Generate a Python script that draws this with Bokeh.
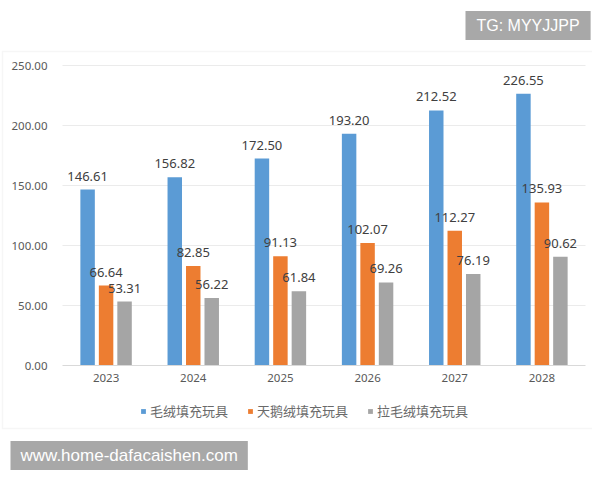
from bokeh.plotting import figure
from bokeh.models import (ColumnDataSource, Range1d, FixedTicker, NumeralTickFormatter,
                          Legend, LegendItem, Label, BoxAnnotation)
from bokeh.transform import dodge
from bokeh.core.properties import value
from bokeh.embed import file_html
from bokeh.resources import INLINE

years = ["2023", "2024", "2025", "2026", "2027", "2028"]
series_names = ["毛绒填充玩具", "天鹅绒填充玩具", "拉毛绒填充玩具"]
plush = [146.61, 156.82, 172.50, 193.20, 212.52, 226.55]
velvet = [66.64, 82.85, 91.13, 102.07, 112.27, 135.93]
brushed = [53.31, 56.22, 61.84, 69.26, 76.19, 90.62]
y_ticks = [0, 50, 100, 150, 200, 250]
colors = ["#5B9BD5", "#ED7D31", "#A5A5A5"]
offsets = [-0.212, 0.0, 0.212]
tg_text = "TG: MYYJJPP"
watermark_text = "www.home-dafacaishen.com"

W, H = 592, 472
# plot area in pixels: left 62, right 585, value 250 at 65, value 0 at 365
px_per_cat = (585 - 62) / len(years)
px_per_val = (365 - 65) / 250
x_start = -0.5 - 62 / px_per_cat
x_end = len(years) - 0.5 + (W - 585) / px_per_cat
y_end = 250 + 65 / px_per_val
y_start = -(H - 365) / px_per_val

xi = list(range(len(years)))
source = ColumnDataSource(dict(
    xi=xi,
    plush=plush, velvet=velvet, brushed=brushed,
    plush_t=[f"{v:.2f}" for v in plush],
    velvet_t=[f"{v:.2f}" for v in velvet],
    brushed_t=[f"{v:.2f}" for v in brushed],
))

p = figure(width=W, height=H, output_backend="svg", toolbar_location=None,
           x_range=Range1d(x_start, x_end), y_range=Range1d(y_start, y_end), min_border=0)
p.background_fill_color = "white"
p.border_fill_color = "white"
p.outline_line_color = None
p.grid.visible = False

# chart border
p.add_layout(BoxAnnotation(left=2, right=596, top=51, bottom=428,
                           left_units="canvas", right_units="canvas",
                           top_units="canvas", bottom_units="canvas",
                           fill_alpha=0, line_color="#e2e2e2", line_width=1.5))

# horizontal gridlines across the plot area
grid_src = ColumnDataSource(dict(y=y_ticks[1:], x0=[-0.5] * (len(y_ticks) - 1),
                                 x1=[len(years) - 0.5] * (len(y_ticks) - 1)))
p.segment(x0="x0", x1="x1", y0="y", y1="y", source=grid_src, line_color="#ebebeb", line_width=1)

p.yaxis.fixed_location = -0.5
p.yaxis.bounds = (0, 250)
p.yaxis.ticker = FixedTicker(ticks=y_ticks)
p.yaxis.formatter = NumeralTickFormatter(format="0.00")
p.yaxis.axis_line_color = None
p.yaxis.major_tick_line_color = None
p.yaxis.major_tick_out = 0
p.yaxis.minor_tick_line_color = None
p.yaxis.major_label_text_font = "Noto Sans"
p.yaxis.major_label_text_font_size = "11.5px"
p.yaxis.major_label_text_color = "#595959"
p.yaxis.major_label_standoff = 15

p.xaxis.fixed_location = 0
p.xaxis.bounds = (-0.5, len(years) - 0.5)
p.xaxis.ticker = FixedTicker(ticks=xi)
p.xaxis.major_label_overrides = {i: y for i, y in zip(xi, years)}
p.xaxis.axis_line_color = "#d9d9d9"
p.xaxis.major_tick_line_color = None
p.xaxis.major_tick_out = 0
p.xaxis.minor_tick_line_color = None
p.xaxis.major_label_text_font = "Noto Sans"
p.xaxis.major_label_text_font_size = "11.5px"
p.xaxis.major_label_text_color = "#595959"
p.xaxis.major_label_standoff = 8

renderers = []
for col, off, c in zip(["plush", "velvet", "brushed"], offsets, colors):
    r = p.vbar(x=dodge("xi", off), top=col, width=0.166,
               source=source, fill_color=c, line_color=None)
    renderers.append(r)
    p.text(x=dodge("xi", off), y=col, text=col + "_t", source=source,
           text_align="center", text_baseline="bottom", y_offset=-9,
           text_font=value("Noto Sans"), text_font_size="13px", text_color="#404040")

legend = Legend(items=[LegendItem(label=n, renderers=[r]) for n, r in zip(series_names, renderers)],
                orientation="horizontal", location=(140, 52),
                glyph_width=6, glyph_height=6, label_standoff=4, spacing=19,
                padding=0, margin=0, border_line_color=None, background_fill_alpha=0,
                label_text_font="Noto Sans CJK SC", label_text_font_size="13px",
                label_text_color="#6a6a6a", label_height=16)
p.add_layout(legend, "center")

p.add_layout(Label(x=465, y=25, x_units="canvas", y_units="canvas", text=tg_text,
                   text_align="left", text_baseline="middle", text_font="Liberation Sans",
                   text_font_size="16px", text_color="white",
                   background_fill_color="#a8a8a8",
                   padding=dict(left=11, right=11, top=6, bottom=6)))

p.add_layout(Label(x=10, y=455, x_units="canvas", y_units="canvas", text=watermark_text,
                   text_align="left", text_baseline="middle", text_font="Liberation Sans",
                   text_font_size="17px", text_color="white",
                   background_fill_color="#a8a8a8",
                   padding=dict(left=10, right=10, top=5, bottom=5)))

open("out.html", "w").write(file_html(p, INLINE))
